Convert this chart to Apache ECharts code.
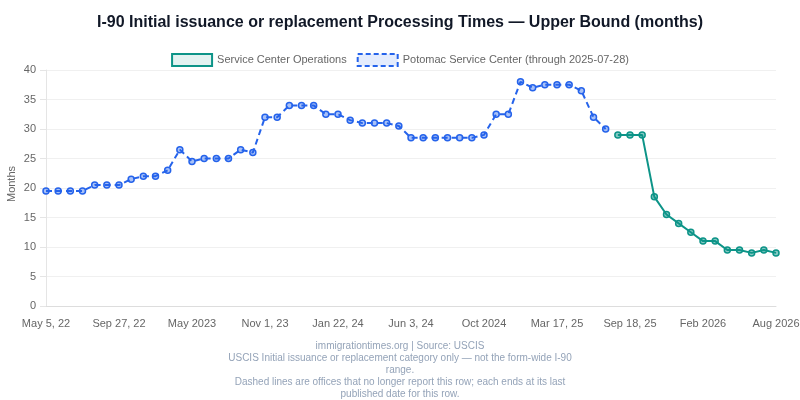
<!DOCTYPE html>
<html>
<head>
<meta charset="utf-8">
<script src="https://cdn.jsdelivr.net/npm/echarts@6/dist/echarts.min.js"></script>
<style>
  html, body { margin: 0; padding: 0; background: #fff; }
  #chart { width: 800px; height: 400px; }
</style>
</head>
<body>
<div id="chart"></div>
<script>
// publication dates (category axis)
var dates = [
  'May 5, 22', 'May 31, 22', 'Jun 24, 22', 'Jul 20, 22', 'Aug 9, 22', 'Sep 2, 22',
  'Sep 27, 22', 'Oct 2022', 'Nov 2022', 'Dec 2022', 'Jan 2023', 'Mar 2023',
  'May 2023', 'Jun 2023', 'Jul 2023', 'Aug 2023', 'Sep 2023', 'Oct 2023',
  'Nov 1, 23', 'Nov 15, 23', 'Dec 1, 23', 'Dec 15, 23', 'Jan 2, 24', 'Jan 10, 24',
  'Jan 22, 24', 'Feb 2024', 'Mar 2024', 'Apr 2024', 'May 2024', 'May 20, 24',
  'Jun 3, 24', 'Jun 2024', 'Jul 2024', 'Aug 2024', 'Sep 2024', 'Sep 20, 24',
  'Oct 2024', 'Nov 2024', 'Dec 2024', 'Jan 2025', 'Feb 2025', 'Mar 3, 25',
  'Mar 17, 25', 'Apr 2025', 'May 2025', 'Jun 2025', 'Jul 28, 25', 'Aug 2025',
  'Sep 18, 25', 'Oct 2025', 'Nov 2025', 'Dec 2025', 'Jan 2026', 'Jan 20, 26',
  'Feb 2026', 'Mar 2026', 'Apr 2026', 'May 2026', 'Jun 2026', 'Jul 2026',
  'Aug 2026'
];

// Potomac Service Center (through 2025-07-28), upper bound in months
var potomac = [
  19.5, 19.5, 19.5, 19.5, 20.5, 20.5, 20.5, 21.5, 22, 22,
  23, 26.5, 24.5, 25, 25, 25, 26.5, 26, 32, 32,
  34, 34, 34, 32.5, 32.5, 31.5, 31, 31, 31, 30.5,
  28.5, 28.5, 28.5, 28.5, 28.5, 28.5, 29, 32.5, 32.5, 38,
  37, 37.5, 37.5, 37.5, 36.5, 32, 30
];

// Service Center Operations, starts after Potomac ends
var serviceCenter = [29, 29, 29, 18.5, 15.5, 14, 12.5, 11, 11, 9.5, 9.5, 9, 9.5, 9];

var yTicks = { min: 0, max: 40, interval: 5 };

// pad the series out to the full category length with nulls
var potomacData = dates.map(function (d, i) { return i < potomac.length ? potomac[i] : null; });
var scStart = dates.length - serviceCenter.length;
var scData = dates.map(function (d, i) { return i >= scStart ? serviceCenter[i - scStart] : null; });

var font = '"Liberation Sans", Arial, sans-serif';

var chart = echarts.init(document.getElementById('chart'));
chart.setOption({
  animation: false,
  textStyle: { fontFamily: font },
  title: {
    text: 'I-90 Initial issuance or replacement Processing Times — Upper Bound (months)',
    left: 'center',
    top: 10,
    textStyle: { fontSize: 16, fontWeight: 'bold', color: '#111827', fontFamily: font }
  },
  legend: {
    top: 48,
    left: 'center',
    icon: 'rect',
    itemWidth: 40,
    itemHeight: 12,
    itemGap: 10,
    textStyle: { color: '#666', fontSize: 11, fontFamily: font },
    data: [
      {
        name: 'Service Center Operations',
        itemStyle: { color: 'rgba(13,148,136,0.12)', borderColor: '#0d9488', borderWidth: 2 }
      },
      {
        name: 'Potomac Service Center (through 2025-07-28)',
        itemStyle: { color: 'rgba(37,99,235,0.12)', borderColor: '#2563eb', borderWidth: 2, borderType: [5, 3] }
      }
    ]
  },
  grid: { left: 46, right: 24, top: 70, bottom: 94, outerBoundsMode: 'none' },
  xAxis: {
    type: 'category',
    data: dates,
    boundaryGap: false,
    axisLine: { lineStyle: { color: '#ddd' } },
    axisTick: { show: false },
    axisLabel: { interval: 5, color: '#666', fontSize: 11, margin: 12, fontFamily: font },
    splitLine: { show: false }
  },
  yAxis: {
    type: 'value',
    min: yTicks.min,
    max: yTicks.max,
    interval: yTicks.interval,
    name: 'Months',
    nameLocation: 'middle',
    nameGap: 29,
    nameMoveOverlap: false,
    nameTextStyle: { color: '#666', fontSize: 11, fontFamily: font, padding: [0, 0, 0, 8] },
    axisLine: { show: true, lineStyle: { color: '#e5e5e5' } },
    axisTick: { show: true, length: 6, lineStyle: { color: '#e5e5e5' } },
    axisLabel: { color: '#666', fontSize: 11, margin: 10, fontFamily: font },
    splitLine: { lineStyle: { color: '#f0f0f0' } }
  },
  series: [
    {
      name: 'Service Center Operations',
      type: 'line',
      data: scData,
      connectNulls: false,
      symbol: 'circle',
      symbolSize: 6,
      showAllSymbol: true,
      lineStyle: { color: '#0d9488', width: 2 },
      itemStyle: { color: 'rgba(13,148,136,0.5)', borderColor: '#0d9488', borderWidth: 1.5 }
    },
    {
      name: 'Potomac Service Center (through 2025-07-28)',
      type: 'line',
      data: potomacData,
      connectNulls: false,
      symbol: 'circle',
      symbolSize: 6,
      showAllSymbol: true,
      lineStyle: { color: '#2563eb', width: 2, type: [6, 4] },
      itemStyle: { color: 'rgba(37,99,235,0.4)', borderColor: '#2563eb', borderWidth: 1.5 }
    }
  ],
  graphic: [
    {
      type: 'text',
      left: 'center',
      top: 340,
      style: {
        text: 'immigrationtimes.org | Source: USCIS\n' +
              'USCIS Initial issuance or replacement category only — not the form-wide I-90\n' +
              'range.\n' +
              'Dashed lines are offices that no longer report this row; each ends at its last\n' +
              'published date for this row.',
        textAlign: 'center',
        fill: '#94a3b8',
        font: '10px ' + font,
        lineHeight: 12
      }
    }
  ]
});
</script>
</body>
</html>
